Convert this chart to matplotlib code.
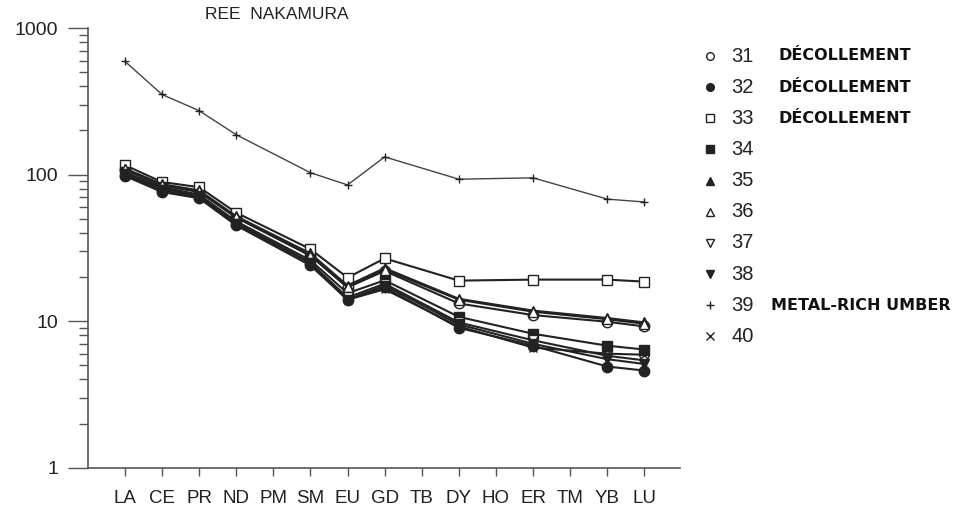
import matplotlib
matplotlib.use('Agg')
import matplotlib.pyplot as plt
from matplotlib.lines import Line2D
from matplotlib.ticker import LogLocator, NullFormatter, FixedFormatter, FixedLocator

# --- data (chondrite-normalised REE) ---
elements = ['LA', 'CE', 'PR', 'ND', 'PM', 'SM', 'EU', 'GD', 'TB', 'DY', 'HO', 'ER', 'TM', 'YB', 'LU']
measured = ['LA', 'CE', 'PR', 'ND', 'SM', 'EU', 'GD', 'DY', 'ER', 'YB', 'LU']

s31 = [108, 84, 76, 51, 28, 17.0, 22.0, 13.2, 11.0, 9.9, 9.2]
s32 = [98, 76, 69, 45, 24, 14.0, 17.0, 9.0, 6.8, 4.9, 4.6]
s33 = [116, 89, 82, 55, 31, 19.8, 26.8, 18.9, 19.2, 19.2, 18.6]
s34 = [104, 82, 73, 48, 26, 15.5, 19.0, 10.7, 8.2, 6.8, 6.4]
s35 = [110, 86, 78, 52, 29, 17.5, 23.0, 14.2, 11.8, 10.5, 9.8]
s36 = [109, 85, 77, 51, 28, 17.0, 22.5, 14.0, 11.6, 10.3, 9.6]
s37 = [101, 79, 71, 46, 25, 14.5, 18.0, 9.8, 7.4, 5.8, 5.4]
s38 = [100, 78, 70, 46, 25, 14.0, 17.5, 9.5, 7.0, 5.5, 5.1]
s39 = [593, 352, 273, 187, 103, 85, 132, 93, 95, 68, 65]
s40 = [102, 80, 72, 47, 25, 14.0, 16.5, 9.2, 6.6, 6.0, 5.9]

sample_ids = ['31', '32', '33', '34', '35', '36', '37', '38', '39', '40']
descriptions = ['DÉCOLLEMENT', 'DÉCOLLEMENT', 'DÉCOLLEMENT', '', '', '', '', '', 'METAL-RICH UMBER', '']
series = [s31, s32, s33, s34, s35, s36, s37, s38, s39, s40]

# marker style per sample: (marker, filled)
styles = [('o', False), ('o', True), ('s', False), ('s', True), ('^', True),
          ('^', False), ('v', False), ('v', True), ('+', True), ('x', True)]

# --- figure ---
plt.rcParams['font.family'] = ['Liberation Sans', 'DejaVu Sans']
fig = plt.figure(figsize=(9.6, 5.13), dpi=100)
ax = fig.add_axes([0.0914, 0.0883, 0.708 - 0.0914, 0.9454 - 0.0883])

xpos = [elements.index(e) for e in measured]
ink = '#222222'

for vals, (mk, filled) in zip(series, styles):
    fc = ink if filled else 'white'
    lw = 1.0 if mk == '+' else 1.5
    ms = 6 if mk in ('+', 'x') else 7.5
    ax.plot(xpos, vals, color=ink if mk != '+' else '#444444', lw=lw,
            marker=mk, ms=ms, mfc=fc, mec=ink, mew=1.0)

ax.set_yscale('log')
ax.set_ylim(1, 1000)
ax.set_xlim(-1.0, 14.95)

ax.yaxis.set_major_locator(FixedLocator([1, 10, 100, 1000]))
ax.yaxis.set_major_formatter(FixedFormatter(['1', '10', '100', '1000']))
ax.yaxis.set_minor_locator(LogLocator(base=10, subs=range(2, 10)))
ax.yaxis.set_minor_formatter(NullFormatter())

ax.set_xticks(range(len(elements)))
ax.set_xticklabels(elements)

for sp in ['top', 'right']:
    ax.spines[sp].set_visible(False)
for sp in ['left', 'bottom']:
    ax.spines[sp].set_color('#555555')
    ax.spines[sp].set_linewidth(1.2)

ax.tick_params(axis='y', which='major', direction='out', length=14.4, width=1.0,
               color='#555555', labelsize=14, pad=7, labelcolor='#222222')
ax.tick_params(axis='y', which='minor', direction='out', length=6.5, width=1.0, color='#555555')
ax.tick_params(axis='x', which='major', direction='out', length=6, width=1.0,
               color='#555555', labelsize=13.5, pad=10, labelcolor='#222222')

fig.text(277 / 960, 1 - 15 / 513, 'REE  NAKAMURA', ha='center', va='center',
         fontsize=12.5, color='#222222')

# --- legend drawn by hand at the right ---
for i, (sid, desc, (mk, filled)) in enumerate(zip(sample_ids, descriptions, styles)):
    y = 1 - (56 + 31.15 * i) / 513
    fc = ink if filled else 'white'
    fig.add_artist(Line2D([710 / 960], [y], transform=fig.transFigure, marker=mk,
                          ms=5.5, mfc=fc, mec=ink, mew=1.0, ls='none'))
    fig.text(731 / 960, y, sid, ha='left', va='center', fontsize=14.5, color='#222222')
    if desc:
        dx = 771 if desc.startswith('METAL') else 778
        fig.text(dx / 960, y, desc, ha='left', va='center', fontsize=11.5,
                 fontweight='bold', family='DejaVu Sans', color='#111111')

plt.savefig('out.png', dpi=100)
